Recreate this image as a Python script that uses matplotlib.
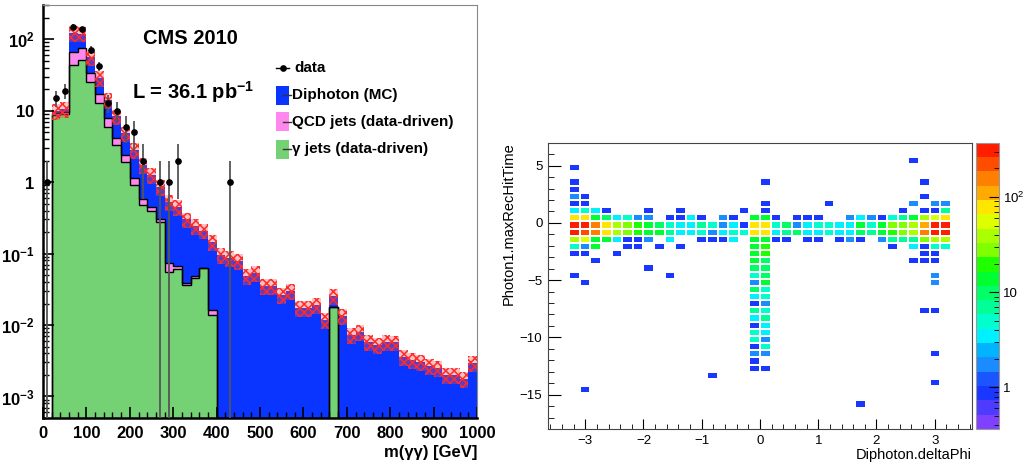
import numpy as np
import matplotlib
matplotlib.use('Agg')
import matplotlib.pyplot as plt
from matplotlib.colors import ListedColormap, LogNorm
from matplotlib.patches import Rectangle
from matplotlib.lines import Line2D

plt.rcParams['font.family'] = ['Liberation Sans', 'DejaVu Sans']
plt.rcParams['mathtext.fontset'] = 'custom'
plt.rcParams['mathtext.rm'] = 'Liberation Sans'
plt.rcParams['mathtext.bf'] = 'Liberation Sans:bold'
plt.rcParams['hatch.linewidth'] = 1.1

# ---------------- left: m(gg) stack, 20 GeV bins ----------------
mass_edges = np.arange(0, 1001, 20)

gjet_mc = [0, 8.6, 9.0, 44, 51, 25, 12.7, 6.0, 3.3, 1.94,
           0.91, 0.48, 0.39, 0.28, 0.056, 0.061, 0.0366, 0.045, 0.0625, 0.0139,
           0, 0, 0, 0, 0, 0, 0, 0, 0, 0,
           0, 0, 0, 0.0178, 0, 0, 0, 0, 0, 0,
           0, 0, 0, 0, 0, 0, 0, 0, 0, 0]
qcd_mc = [0, 0.6, 0.6, 23, 24, 8.5, 4.3, 1.9, 0.8, 0.46,
          0.22, 0.095, 0.057, 0.023, 0.017, 0.007, 0.0024, 0.004, 0, 0.0021,
          0, 0, 0, 0, 0, 0, 0, 0, 0, 0,
          0, 0, 0, 0, 0, 0, 0, 0, 0, 0,
          0, 0, 0, 0, 0, 0, 0, 0, 0, 0]
diphoton_mc = [0, 0.8, 0.9, 55, 45, 23.5, 12, 6.4, 4.2, 2.4,
               1.67, 1.165, 0.81, 0.56, 0.447, 0.382, 0.261, 0.191, 0.1475, 0.129,
               0.095, 0.086, 0.078, 0.048, 0.053, 0.035, 0.035, 0.026, 0.030, 0.0175,
               0.0172, 0.0188, 0.0118, 0.0078, 0.0133, 0.0072, 0.0079, 0.0058, 0.0053, 0.0058,
               0.0057, 0.0036, 0.0032, 0.0030, 0.0027, 0.0025, 0.0020, 0.0020, 0.00175, 0.0029]
data_counts = [1, 15, 19, 150, 138, 71, 42, 13, 10, 6,
               5, 2, 0, 1, 1, 2, 0, 0, 0, 0,
               0, 1, 0, 0, 0, 0, 0, 0, 0, 0,
               0, 0, 0, 0, 0, 0, 0, 0, 0, 0,
               0, 0, 0, 0, 0, 0, 0, 0, 0, 0]
band_rel_err = 0.25

# ---------------- right: deltaPhi vs maxRecHitTime ----------------
phi_edges = np.linspace(-3.64, 3.64, 41)
time_edges = np.linspace(-18, 7, 41)

# main band around t~0, phi bins from -3.19 to 3.19
band_phi = [-3.19, -3.00, -2.82, -2.64, -2.46, -2.27, -2.09, -1.91, -1.73, -1.55,
            -1.37, -1.18, -1.00, -0.82, -0.64, -0.46, -0.27, -0.09, 0.09, 0.27,
            0.46, 0.64, 0.82, 1.00, 1.18, 1.37, 1.55, 1.73, 1.91, 2.09,
            2.27, 2.46, 2.64, 2.82, 3.00, 3.19]
band_time = [1.06, 0.44, -0.19, -0.81, -1.44, -2.06]
band_counts = [
    [3, 5, 3, 1, 0, 0, 0, 1, 0, 0, 1, 0, 0, 0, 0, 0, 1, 0, 1, 0,
     0, 0, 0, 0, 0, 0, 0, 0, 0, 0, 0, 1, 0, 1, 1, 7],
    [80, 70, 14, 10, 3, 5, 2, 2, 0, 1, 1, 3, 1, 0, 2, 1, 0, 14, 12, 1,
     0, 1, 1, 1, 0, 0, 2, 3, 2, 1, 5, 7, 14, 35, 55, 70],
    [300, 280, 160, 80, 40, 28, 20, 14, 10, 5, 4, 3, 7, 5, 2, 3, 1, 80, 85, 5,
     10, 2, 3, 5, 5, 3, 3, 14, 5, 14, 28, 28, 40, 110, 300, 320],
    [280, 260, 140, 75, 35, 30, 20, 16, 12, 7, 4, 4, 5, 2, 4, 5, 5, 75, 80, 3,
     7, 10, 3, 4, 5, 4, 3, 10, 7, 14, 20, 25, 40, 160, 280, 300],
    [40, 55, 14, 14, 4, 1, 1, 2, 0, 3, 0, 0, 1, 1, 1, 3, 0, 14, 12, 1,
     1, 0, 1, 1, 0, 1, 2, 1, 0, 2, 7, 7, 7, 28, 40, 35],
    [5, 2, 12, 0, 0, 1, 1, 0, 1, 0, 1, 0, 0, 0, 0, 0, 0, 14, 20, 0,
     0, 0, 0, 0, 0, 0, 0, 0, 0, 0, 1, 0, 3, 1, 5, 5],
]

# vertical stripe at deltaPhi ~ 0, going to early times
stripe_time = [-2.69, -3.31, -3.94, -4.56, -5.19, -5.81, -6.44, -7.06, -7.69,
               -8.31, -8.94, -9.56, -10.19, -10.81, -11.44, -12.06, -12.69]
stripe_neg = [14, 14, 10, 5, 2, 10, 4, 1, 7, 3, 1, 5, 5, 1, 2, 1, 1]
stripe_pos = [20, 10, 10, 10, 12, 5, 5, 2, 5, 8, 3, 3, 2, 5, 2, 0, 1]

# isolated entries
iso_phi = [-3.19, -3.19, -3.19, -3.19, -3.00, -3.19, -3.00, 0.09, 0.09, 1.18,
           2.64, 2.82, 2.82, 2.64, 3.00, 3.19, -3.19, -3.00, -2.46, 2.82,
           3.00, -2.82, 2.64, 2.82, 3.00, -1.91, -3.19, -1.55, 3.00, -3.00,
           3.00, 2.82, 3.00, 3.00, -0.82, 3.00, -3.00, 1.73]
iso_time = [4.81, 3.56, 2.94, 2.31, 2.31, 1.69, 1.69, 3.56, 1.69, 1.69,
            5.44, 3.56, 2.31, 1.69, 1.69, 1.69, -2.69, -2.69, -2.69, -2.69,
            -2.69, -3.31, -3.31, -3.31, -3.31, -3.94, -4.56, -4.56, -4.56, -5.19,
            -5.19, -7.69, -7.69, -11.44, -13.31, -13.94, -14.56, -15.81]
iso_count = [1, 1, 1, 2, 1, 1, 1, 1, 1, 1,
             1, 1, 1, 2, 2, 2, 1, 1, 1, 1,
             1, 1, 1, 1, 1, 1, 1, 1, 2, 1,
             2, 1, 1, 1, 1, 1, 1, 1]

palette = ['#8040ff', '#4d3cff', '#1a37ff', '#1a55ff', '#1a8cff',
           '#00b4ff', '#00f0ff', '#00ffcc', '#00ff99', '#00ff66',
           '#00ff30', '#20ff00', '#80ff00', '#aaff00', '#ddff00',
           '#ffe600', '#ffaa00', '#ff8000', '#ff4d00', '#ff1e00']

fig = plt.figure(figsize=(10.25, 4.67), dpi=100)

# ====== left panel ======
axL = fig.add_axes([0.042, 0.105, 0.4234, 0.884])
axL.set_yscale('log')
floor = 1e-6
g = np.array(gjet_mc)
gq = g + np.array(qcd_mc)
tot = gq + np.array(diphoton_mc)
gf = np.maximum(g, floor)
gqf = np.maximum(gq, floor)
tf = np.maximum(tot, floor)

axL.stairs(gf, mass_edges, baseline=floor, fill=True, color='#74d174', lw=0)
axL.stairs(gqf, mass_edges, baseline=gf, fill=True, color='#ff88ee', lw=0)
axL.stairs(tf, mass_edges, baseline=gqf, fill=True, color='#0a34ff', lw=0)
axL.stairs(gqf, mass_edges, baseline=None, color='black', lw=1.0)
axL.stairs(gf, mass_edges, baseline=None, color='black', lw=1.0)
axL.stairs(tf * (1 + band_rel_err), mass_edges, baseline=tf * (1 - band_rel_err),
           fill=True, facecolor=(1, 0.3, 0.3, 0.35), edgecolor='#ff2a2a',
           hatch='xxxx', lw=0)

n = np.array(data_counts, dtype=float)
centers = 0.5 * (mass_edges[:-1] + mass_edges[1:])
sel = n > 0
err_up = np.sqrt(n[sel])
err_dn = np.where(n[sel] - err_up > 0, err_up, n[sel] - 1e-9)
axL.errorbar(centers[sel], n[sel], yerr=[err_dn, err_up], fmt='o', color='black',
             ecolor='#555555', elinewidth=1.3, ms=3.8, capsize=0, zorder=5)

axL.set_xlim(0, 1000)
axL.set_ylim(5e-4, 300)
axL.set_xticks(np.arange(0, 1001, 100))
axL.set_xticks(np.arange(0, 1001, 20), minor=True)
axL.set_xticklabels([str(v) for v in range(0, 1001, 100)], fontsize=12, fontweight='bold')
axL.set_yticks([1e-3, 1e-2, 1e-1, 1, 10, 100])
axL.set_yticklabels([r'$\mathbf{10^{-3}}$', r'$\mathbf{10^{-2}}$', r'$\mathbf{10^{-1}}$',
                     r'$\mathbf{1}$', r'$\mathbf{10}$', r'$\mathbf{10^{2}}$'], fontsize=12)
axL.tick_params(which='both', direction='in', top=False, right=False)
axL.tick_params(which='major', length=8, width=1.2, pad=6)
axL.tick_params(which='minor', length=4, width=1.0)
for s in ['left', 'bottom']:
    axL.spines[s].set_linewidth(1.8)
for s in ['top', 'right']:
    axL.spines[s].set_color('#888888')
axL.set_xlabel('m(γγ) [GeV]', fontsize=12, fontweight='bold', loc='right', labelpad=3)

axL.text(0.23, 0.92, 'CMS 2010', transform=axL.transAxes, fontsize=14.5,
         fontweight='bold', va='center', ha='left')
axL.text(0.205, 0.789, r'L = 36.1 pb$^{\mathbf{-1}}$', transform=axL.transAxes,
         fontsize=14.5, fontweight='bold', va='center', ha='left')

# legend
leg_labels = ['data', 'Diphoton (MC)', 'QCD jets (data-driven)', 'γ jets (data-driven)']
leg_colors = [None, '#0a34ff', '#ff88ee', '#74d174']
leg_y = [0.847, 0.782, 0.717, 0.651]
bx0, bw, bh = 0.537, 0.03, 0.046
for lab, col, yy in zip(leg_labels, leg_colors, leg_y):
    if col is None:
        axL.add_line(Line2D([bx0, bx0 + bw], [yy, yy], color='black', lw=1,
                            transform=axL.transAxes))
        axL.plot([bx0 + bw / 2], [yy], 'o', color='black', ms=3.8, transform=axL.transAxes)
        axL.text(bx0 + bw + 0.013, yy, lab, transform=axL.transAxes, fontsize=11,
                 fontweight='bold', va='center')
    else:
        axL.add_patch(Rectangle((bx0, yy - bh / 2), bw, bh, transform=axL.transAxes,
                                facecolor=col, edgecolor='none'))
        axL.add_line(Line2D([bx0 + bw / 2, bx0 + bw + 0.004], [yy, yy], color='#333333',
                            lw=1, transform=axL.transAxes))
        axL.text(bx0 + bw + 0.007, yy, lab, transform=axL.transAxes, fontsize=11,
                 fontweight='bold', va='center')

# ====== right panel ======
axR = fig.add_axes([0.5346, 0.0814, 0.4137, 0.613])
all_phi, all_time, all_w = [], [], []
for t, row in zip(band_time, band_counts):
    all_phi += band_phi
    all_time += [t] * len(band_phi)
    all_w += row
for t, a, b in zip(stripe_time, stripe_neg, stripe_pos):
    all_phi += [-0.09, 0.09]
    all_time += [t, t]
    all_w += [a, b]
all_phi += iso_phi
all_time += iso_time
all_w += iso_count

H, _, _ = np.histogram2d(all_phi, all_time, bins=[phi_edges, time_edges], weights=all_w)
Hm = np.ma.masked_where(H <= 0, H)
cmap = ListedColormap(palette)
mesh = axR.pcolormesh(phi_edges, time_edges, Hm.T, cmap=cmap,
                      norm=LogNorm(vmin=0.365, vmax=372), edgecolors='white', linewidth=0.3)
axR.set_xlim(-3.64, 3.64)
axR.set_ylim(-18, 7)
axR.set_xticks([-3, -2, -1, 0, 1, 2, 3])
axR.set_xticks(np.arange(-3.6, 3.61, 0.2), minor=True)
axR.set_yticks([-15, -10, -5, 0, 5])
axR.set_yticks(np.arange(-18, 7.1, 1), minor=True)
axR.tick_params(which='both', direction='in', labelsize=9.5)
axR.tick_params(axis='x', which='major', length=7, pad=4)
axR.tick_params(axis='x', which='minor', length=3.5)
axR.tick_params(axis='y', which='major', length=9, pad=4)
axR.tick_params(axis='y', which='minor', length=4.5)
for s in axR.spines.values():
    s.set_color('#444444')
axR.set_xlabel('Diphoton.deltaPhi', fontsize=10.5, loc='right', labelpad=1)
axR.set_ylabel('Photon1.maxRecHitTime', fontsize=10.5, loc='top', labelpad=3)

cax = fig.add_axes([0.9519, 0.0814, 0.023, 0.613])
cb = fig.colorbar(mesh, cax=cax)
cb.set_ticks([1, 10, 100])
cb.set_ticklabels(['1', '10', r'$10^{2}$'])
cax.tick_params(which='both', direction='in', labelsize=9.5, pad=3)
cax.tick_params(which='major', length=7)
cax.tick_params(which='minor', length=3.5)
cb.outline.set_edgecolor('#999999')

fig.savefig('out.png', dpi=100)
